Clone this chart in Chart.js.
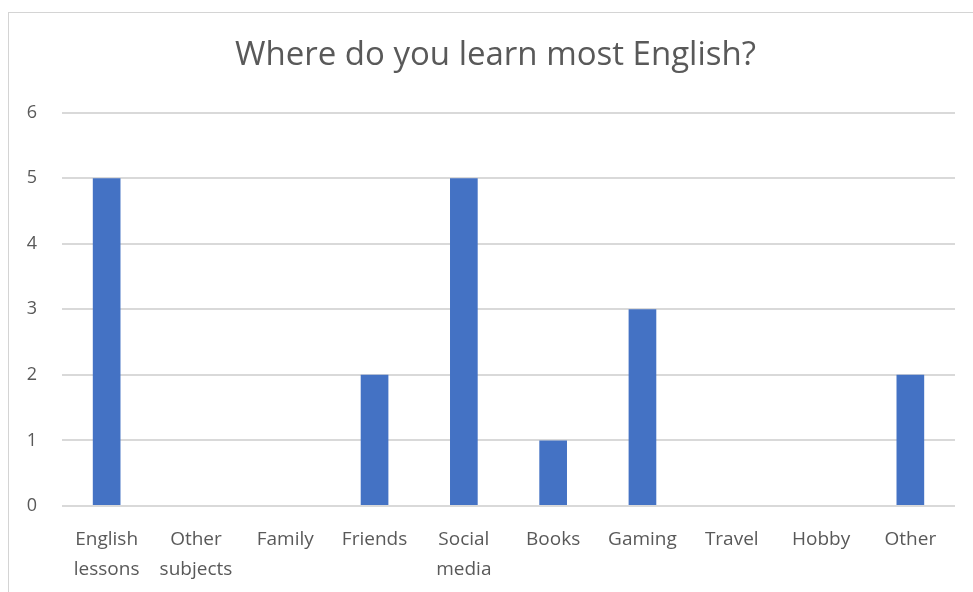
<!DOCTYPE html>
<html>
<head>
<meta charset="utf-8">
<script src="https://cdn.jsdelivr.net/npm/chart.js@4.4.1/dist/chart.umd.min.js"></script>
<style>
  html, body { margin: 0; padding: 0; background: #fff; overflow: hidden; }
  #frame {
    position: absolute; left: 8px; top: 12px;
    width: 990px; height: 600px;
    border: 1px solid #d4d4d4;
    box-sizing: border-box;
  }
  /* the frame runs past the right edge of the window, so the canvas does too */
  #wrap { position: absolute; left: 0; top: 0; width: 991px; height: 592px; }
</style>
</head>
<body>
<div id="frame"></div>
<div id="wrap"><canvas id="myChart"></canvas></div>
<script>
'use strict';

const chartTitle = 'Where do you learn most English?';
const categories = [
    ['English', 'lessons'], ['Other', 'subjects'], 'Family', 'Friends',
    ['Social', 'media'], 'Books', 'Gaming', 'Travel', 'Hobby', 'Other'
];
const answers = [5, 0, 0, 2, 5, 1, 3, 0, 0, 2];
const yTicks = [0, 1, 2, 3, 4, 5, 6];

const textColor = '#595959';
const gridColor = '#d9d9d9';

let ctx = document.getElementById('myChart').getContext('2d');
let answerChart = new Chart(ctx, {
    type: 'bar',
    data: {
        labels: categories,
        datasets: [{
            data: answers,
            backgroundColor: '#4472c4',
            borderWidth: 0,
            barPercentage: 0.31,
            categoryPercentage: 1
        }]
    },
    options: {
        responsive: true,
        maintainAspectRatio: false,
        animation: false,
        layout: { padding: 0 },
        plugins: {
            legend: { display: false },
            tooltip: { enabled: false },
            title: {
                display: true,
                text: chartTitle,
                color: textColor,
                font: { family: 'Open Sans', size: 33, weight: 'normal' },
                padding: { top: 36, bottom: 37 }
            }
        },
        scales: {
            x: {
                grid: { display: false },
                border: { display: false },
                ticks: {
                    color: textColor,
                    font: { family: 'Open Sans', size: 19, lineHeight: 1.55 },
                    padding: 11,
                    maxRotation: 0,
                    autoSkip: false
                },
                afterFit: function (scale) { scale.height = 86; }
            },
            y: {
                min: yTicks[0],
                max: yTicks[yTicks.length - 1],
                grid: { color: gridColor, lineWidth: 2, drawTicks: false },
                border: { display: false },
                afterBuildTicks: function (scale) {
                    scale.ticks = yTicks.map(v => ({ value: v }));
                },
                ticks: {
                    color: textColor,
                    font: { family: 'Open Sans', size: 18 },
                    padding: 25
                },
                afterFit: function (scale) { scale.width = 62; }
            },
            // empty right-hand strip so the plot stops short of the frame
            yRight: {
                position: 'right',
                grid: { display: false },
                border: { display: false },
                ticks: { display: false },
                afterFit: function (scale) { scale.width = 36; }
            }
        }
    }
});
</script>
</body>
</html>
